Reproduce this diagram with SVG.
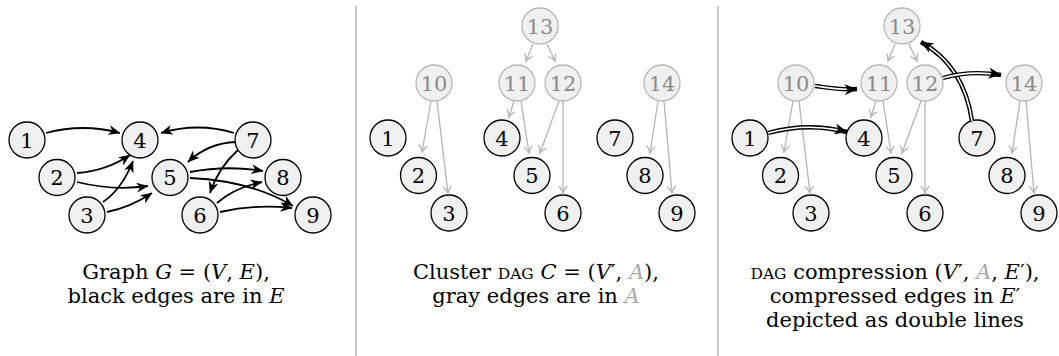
<svg xmlns="http://www.w3.org/2000/svg" width="1059" height="356" viewBox="0 0 1059 356">
<style>
.n circle{fill:#f0f0f0;stroke:#000;stroke-width:1.3}
.n text{font-family:"DejaVu Serif","Liberation Serif",serif;font-size:21px;text-anchor:middle;fill:#000}
.g circle{stroke:#b8b8b8}
.g text{fill:#8a8a8a}
.e{fill:none;stroke:#000;stroke-width:1.8;marker-end:url(#ah)}
.ga{fill:none;stroke:#b4b4b4;stroke-width:1.3;marker-end:url(#gh)}
.dbo{fill:none;stroke:#000;stroke-width:4.4;marker-end:url(#dh)}
.dbi{fill:none;stroke:#fff;stroke-width:1.6}
.cap{font-family:"DejaVu Serif","Liberation Serif",serif;font-size:21px;text-anchor:middle;fill:#000}
.i{font-style:italic}
.sc{font-size:15.5px}
.gr{fill:#a8a8a8}
.div{stroke:#c8c8c8;stroke-width:2}
</style>
<defs>
<marker id="ah" viewBox="0 0 12 10" refX="11.5" refY="5" markerWidth="12" markerHeight="10" markerUnits="userSpaceOnUse" orient="auto"><path d="M0,0 L12,5 L0,10 L3.5,5 Z" fill="#000"/></marker>
<marker id="gh" viewBox="0 0 8 10" refX="7.5" refY="5" markerWidth="8" markerHeight="10" markerUnits="userSpaceOnUse" orient="auto" overflow="visible"><path d="M0.8,0.8 Q4,4 7.5,5 Q4,6 0.8,9.2" fill="none" stroke="#b4b4b4" stroke-width="1.3"/></marker>
<marker id="dh" viewBox="0 0 13 11" refX="12.5" refY="5.5" markerWidth="13" markerHeight="11" markerUnits="userSpaceOnUse" orient="auto"><path d="M0,0 L13,5.5 L0,11 L4,5.5 Z" fill="#000"/></marker>
</defs>

<g id="dividers">
<line class="div" x1="356" y1="6" x2="356" y2="356"/>
<line class="div" x1="718" y1="6" x2="718" y2="356"/>
</g>

<!-- Panel 1 nodes -->
<g id="a1" class="n"><circle cx="27" cy="140" r="18"/><text x="27" y="147.5">1</text></g>
<g id="a2" class="n"><circle cx="57" cy="177.5" r="18"/><text x="57" y="185">2</text></g>
<g id="a3" class="n"><circle cx="87" cy="215" r="18"/><text x="87" y="222.5">3</text></g>
<g id="a4" class="n"><circle cx="140" cy="140" r="18"/><text x="140" y="147.5">4</text></g>
<g id="a5" class="n"><circle cx="170" cy="177.5" r="18"/><text x="170" y="185">5</text></g>
<g id="a6" class="n"><circle cx="200" cy="215" r="18"/><text x="200" y="222.5">6</text></g>
<g id="a7" class="n"><circle cx="253" cy="140" r="18"/><text x="253" y="147.5">7</text></g>
<g id="a8" class="n"><circle cx="283" cy="177.5" r="18"/><text x="283" y="185">8</text></g>
<g id="a9" class="n"><circle cx="313" cy="215" r="18"/><text x="313" y="222.5">9</text></g>

<!-- Panel 2 nodes -->
<g id="b1" class="n"><circle cx="388" cy="138" r="18"/><text x="388" y="145.5">1</text></g>
<g id="b2" class="n"><circle cx="418.5" cy="175.5" r="18"/><text x="418.5" y="183">2</text></g>
<g id="b3" class="n"><circle cx="449" cy="213" r="18"/><text x="449" y="220.5">3</text></g>
<g id="b4" class="n"><circle cx="502" cy="138" r="18"/><text x="502" y="145.5">4</text></g>
<g id="b5" class="n"><circle cx="532" cy="175.5" r="18"/><text x="532" y="183">5</text></g>
<g id="b6" class="n"><circle cx="563" cy="213" r="18"/><text x="563" y="220.5">6</text></g>
<g id="b7" class="n"><circle cx="615" cy="138" r="18"/><text x="615" y="145.5">7</text></g>
<g id="b8" class="n"><circle cx="645" cy="175.5" r="18"/><text x="645" y="183">8</text></g>
<g id="b9" class="n"><circle cx="677" cy="213" r="18"/><text x="677" y="220.5">9</text></g>
<g id="b10" class="n g"><circle cx="434" cy="83" r="18"/><text x="434" y="90.5">10</text></g>
<g id="b11" class="n g"><circle cx="517" cy="83" r="18"/><text x="517" y="90.5">11</text></g>
<g id="b12" class="n g"><circle cx="563" cy="83" r="18"/><text x="563" y="90.5">12</text></g>
<g id="b13" class="n g"><circle cx="540" cy="26" r="18"/><text x="540" y="33.5">13</text></g>
<g id="b14" class="n g"><circle cx="662" cy="83" r="18"/><text x="662" y="90.5">14</text></g>

<!-- Panel 3 nodes -->
<g id="c1" class="n"><circle cx="750" cy="138" r="18"/><text x="750" y="145.5">1</text></g>
<g id="c2" class="n"><circle cx="780.5" cy="175.5" r="18"/><text x="780.5" y="183">2</text></g>
<g id="c3" class="n"><circle cx="811" cy="213" r="18"/><text x="811" y="220.5">3</text></g>
<g id="c4" class="n"><circle cx="864" cy="138" r="18"/><text x="864" y="145.5">4</text></g>
<g id="c5" class="n"><circle cx="894" cy="175.5" r="18"/><text x="894" y="183">5</text></g>
<g id="c6" class="n"><circle cx="925" cy="213" r="18"/><text x="925" y="220.5">6</text></g>
<g id="c7" class="n"><circle cx="977" cy="138" r="18"/><text x="977" y="145.5">7</text></g>
<g id="c8" class="n"><circle cx="1007" cy="175.5" r="18"/><text x="1007" y="183">8</text></g>
<g id="c9" class="n"><circle cx="1039" cy="213" r="18"/><text x="1039" y="220.5">9</text></g>
<g id="c10" class="n g"><circle cx="796" cy="83" r="18"/><text x="796" y="90.5">10</text></g>
<g id="c11" class="n g"><circle cx="879" cy="83" r="18"/><text x="879" y="90.5">11</text></g>
<g id="c12" class="n g"><circle cx="925" cy="83" r="18"/><text x="925" y="90.5">12</text></g>
<g id="c13" class="n g"><circle cx="902" cy="26" r="18"/><text x="902" y="33.5">13</text></g>
<g id="c14" class="n g"><circle cx="1024" cy="83" r="18"/><text x="1024" y="90.5">14</text></g>

<g id="connectors">
<!-- panel 1 -->
<path class="e" d="M46,133 Q83,123 120,133"/>
<path class="e" d="M234,133 Q198,122 161,133"/>
<path class="e" d="M236,142 Q208,143 188,162"/>
<path class="e" d="M238,150 Q218,168 210,193"/>
<path class="e" d="M77,173 Q106,171 130,155"/>
<path class="e" d="M77,182 Q113,191 148,186"/>
<path class="e" d="M103,202 Q122,189 133,161"/>
<path class="e" d="M107,212 Q131,207 152,193"/>
<path class="e" d="M190,172 Q227,165 263,171"/>
<path class="e" d="M190,178 Q252,181 293,206"/>
<path class="e" d="M217,203 Q234,188 262,182"/>
<path class="e" d="M220,212 Q254,204 292,208"/>
<!-- panel 2 -->
<path class="ga" d="M533,44 L526,61"/>
<path class="ga" d="M547,44 L555,61"/>
<path class="ga" d="M431,101 L422,152"/>
<path class="ga" d="M437,101 L448,193"/>
<path class="ga" d="M514,101 L509,117"/>
<path class="ga" d="M521,101 L529,153"/>
<path class="ga" d="M559,101 L540,153"/>
<path class="ga" d="M563,101 L563,193"/>
<path class="ga" d="M658,101 L650,153"/>
<path class="ga" d="M664,101 L672,193"/>
<!-- panel 3 gray -->
<path class="ga" d="M895,44 L888,61"/>
<path class="ga" d="M909,44 L917,61"/>
<path class="ga" d="M793,101 L784,152"/>
<path class="ga" d="M799,101 L810,193"/>
<path class="ga" d="M876,101 L871,117"/>
<path class="ga" d="M883,101 L891,153"/>
<path class="ga" d="M921,101 L902,153"/>
<path class="ga" d="M925,101 L925,193"/>
<path class="ga" d="M1020,101 L1012,153"/>
<path class="ga" d="M1026,101 L1034,193"/>
<!-- panel 3 double -->
<path class="dbo" d="M815,86 C830,88 840,90 857,89"/>
<path class="dbi" pathLength="100" stroke-dasharray="76 100" d="M815,86 C830,88 840,90 857,89"/>
<path class="dbo" d="M768,133 Q808,122 847,132"/>
<path class="dbi" pathLength="100" stroke-dasharray="88 100" d="M768,133 Q808,122 847,132"/>
<path class="dbo" d="M972,121 Q964,66 921,42"/>
<path class="dbi" pathLength="100" stroke-dasharray="90 100" d="M972,121 Q964,66 921,42"/>
<path class="dbo" d="M943,78 Q970,70 1001,75"/>
<path class="dbi" pathLength="100" stroke-dasharray="83 100" d="M943,78 Q970,70 1001,75"/>
</g>

<g id="captions">
<text class="cap" x="176" y="279">Graph <tspan class="i">G</tspan> = (<tspan class="i">V</tspan>, <tspan class="i">E</tspan>),</text>
<text class="cap" x="176" y="303">black edges are in <tspan class="i">E</tspan></text>
<text class="cap" x="536" y="279">Cluster <tspan class="sc">DAG</tspan> <tspan class="i">C</tspan> = (<tspan class="i">V</tspan>′, <tspan class="i gr">A</tspan>),</text>
<text class="cap" x="536" y="303">gray edges are in <tspan class="i gr">A</tspan></text>
<text class="cap" x="895" y="279"><tspan class="sc">DAG</tspan> compression (<tspan class="i">V</tspan>′, <tspan class="i gr">A</tspan>, <tspan class="i">E</tspan>′),</text>
<text class="cap" x="895" y="303">compressed edges in <tspan class="i">E</tspan>′</text>
<text class="cap" x="895" y="327">depicted as double lines</text>
</g>
</svg>
